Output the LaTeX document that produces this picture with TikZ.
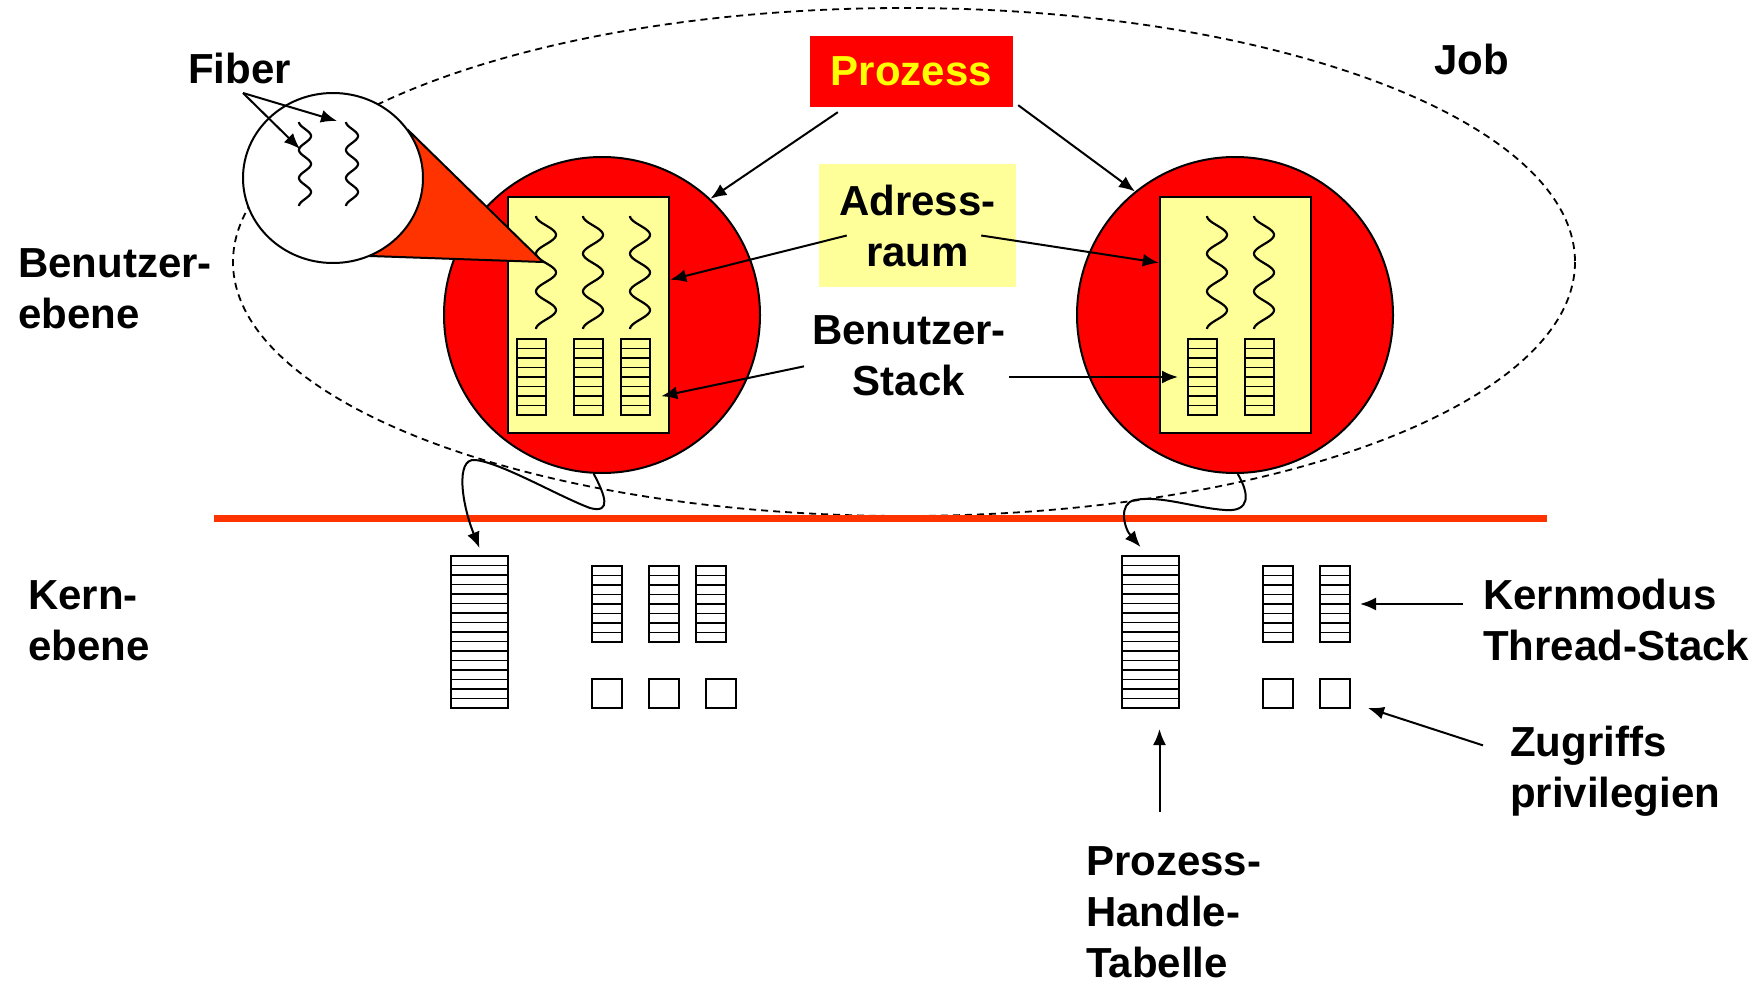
\documentclass[tikz,border=0pt]{standalone}
\usepackage{fontspec}
\setmainfont{Liberation Sans}
\usetikzlibrary{arrows.meta,calc,shapes.geometric}
\definecolor{procred}{HTML}{FF0000}
\definecolor{asyellow}{HTML}{FFFF99}
\definecolor{callred}{HTML}{FF3300}
\definecolor{textyellow}{HTML}{FFFF00}
\tikzset{
  lbl/.style={font=\fontsize{42}{51}\selectfont\bfseries, inner sep=0pt, align=left, anchor=north west},
  ptr/.style={-{Latex[length=16pt,width=13pt]}, line width=2pt},
  stackcell/.style={draw, line width=2pt, inner sep=0pt, outer sep=0pt, anchor=north west},
}
% name, x, y, width, rows
\newcommand\stackbox[5]{%
  \node[stackcell, minimum width=#4pt, minimum height=#5*9.5pt] (#1) at (#2,#3) {};
  \foreach \k in {1,...,#5} \draw[line width=1.6pt] (#2,#3+\k*9.5) -- ++(#4,0);
}
% x, top, height, amplitude
\newcommand\wave[4]{%
  \draw[line width=2.2pt] plot[domain=0:1080, samples=91, smooth] ({#1-#4*cos(\x)}, {#2+\x/1080*#3});
}
\begin{document}
\begin{tikzpicture}[x=1pt, y=-1pt]
  \useasboundingbox (0,0) rectangle (1764,985);
  % job
  \draw[dash pattern=on 7pt off 5pt, line width=1.8pt] (904,262) ellipse [x radius=671, y radius=254];
  % processes
  \node[draw, circle, fill=procred, line width=2pt, minimum size=316pt, inner sep=0pt] (procL) at (602,315) {};
  \node[draw, circle, fill=procred, line width=2pt, minimum size=316pt, inner sep=0pt] (procR) at (1235,315) {};
  \node[draw, fill=asyellow, line width=2.5pt, minimum width=161pt, minimum height=236pt] (asL) at (588.5,315) {};
  \node[draw, fill=asyellow, line width=2.5pt, minimum width=151pt, minimum height=236pt] (asR) at (1235.5,315) {};
  \wave{546}{216}{113}{10}
  \wave{593}{216}{113}{10}
  \wave{640}{216}{113}{10}
  \wave{1217}{216}{113}{10}
  \wave{1264}{216}{113}{10}
  \stackbox{ustL1}{517}{339}{29}{8}
  \stackbox{ustL2}{574}{339}{29}{8}
  \stackbox{ustL3}{621}{339}{29}{8}
  \stackbox{ustR1}{1188}{339}{29}{8}
  \stackbox{ustR2}{1245}{339}{29}{8}
  % fiber zoom
  \filldraw[fill=callred, line width=2pt] (408,130) -- (543,262) -- (370,256) -- (333,178) -- cycle;
  \node[draw, ellipse, fill=white, line width=2pt, minimum width=180pt, minimum height=170pt, inner sep=0pt] (fibzoom) at (333,178) {};
  \wave{305}{122}{84}{6}
  \wave{352}{122}{84}{6}
  % user/kernel border
  \draw[callred, line width=7pt] (214,518.5) -- (1547,518.5);
  % kernel objects
  \stackbox{kbigL}{451}{556}{57}{16}
  \stackbox{ksL1}{592}{566}{30}{8}
  \stackbox{ksL2}{649}{566}{30}{8}
  \stackbox{ksL3}{696}{566}{30}{8}
  \node[stackcell, minimum width=30pt, minimum height=29pt] (privL1) at (592,679) {};
  \node[stackcell, minimum width=30pt, minimum height=29pt] (privL2) at (649,679) {};
  \node[stackcell, minimum width=30pt, minimum height=29pt] (privL3) at (706,679) {};
  \stackbox{kbigR}{1122}{556}{57}{16}
  \stackbox{ksR1}{1263}{566}{30}{8}
  \stackbox{ksR2}{1320}{566}{30}{8}
  \node[stackcell, minimum width=30pt, minimum height=29pt] (privR1) at (1263,679) {};
  \node[stackcell, minimum width=30pt, minimum height=29pt] (privR2) at (1320,679) {};
  % labels
  \node[lbl] (fiber) at (188,53) {Fiber};
  \node[lbl] (job) at (1434,44) {Job};
  \node[lbl] (uslvl) at (18,248) {Benutzer-\\ebene};
  \node[lbl] (krlvl) at (28,580) {Kern-\\ebene};
  \node[lbl, anchor=center, fill=procred, text=textyellow, minimum width=203pt, minimum height=71pt] (proz) at (911.5,71.5) {Prozess};
  \node[lbl, anchor=center, align=center, fill=asyellow, minimum width=197pt, minimum height=123pt] (adr) at (917.5,225.5) {Adress-\\raum};
  \node[lbl, anchor=north, align=center] (ustack) at (909,315) {Benutzer-\\Stack};
  \node[lbl] (kstack) at (1483,579) {Kernmodus\\Thread-Stack};
  \node[lbl] (priv) at (1510,726) {Zugriffs\\privilegien};
  \node[lbl] (handle) at (1086,846) {Prozess-\\Handle-\\Tabelle};
  % arrows
  \coordinate (fibsrc) at (243,93);
  \coordinate (fibw1) at (300,149);
  \coordinate (fibw2) at (337,121);
  \draw[ptr] (fibsrc) -- (fibw1);
  \draw[ptr] (fibsrc) -- (fibw2);
  \draw[ptr] ($(proz.south west)+(28,5)$) -- (procL.47);
  \draw[ptr] ($(proz.south east)+(5,-2)$) -- (procR.129);
  \draw[ptr] ($(adr.west)+(28,10)$) -- ($(asL.north east)+(0,84)$);
  \draw[ptr] ($(adr.east)+(-35,10)$) -- ($(asR.north west)+(0,67)$);
  \draw[ptr] ($(ustack.west)+(-8,11)$) -- ($(asL.south east)+(-9,-38)$);
  \draw[ptr] ($(ustR1.west)+(-179,0)$) -- ($(ustR1.west)+(-10,0)$);
  \draw[ptr] ($(ksR2.east)+(113,0)$) -- ($(ksR2.east)+(10,0)$);
  \draw[ptr] ($(priv.west)+(-27,-26)$) -- ($(privR2.south east)+(18,0)$);
  \draw[ptr] ($(kbigR.south)+(9,104)$) -- ($(kbigR.south)+(9,21)$);
  \draw[ptr] (procL.267) .. controls (605,495) and (612,514) .. (590,508) .. controls (560,497) and (500,462) .. (475,460) .. controls (455,458) and (462,505) .. ($(kbigL.north)+(0,-8)$);
  \draw[ptr] (procR.271) .. controls (1250,495) and (1250,512) .. (1225,510) .. controls (1195,508) and (1160,495) .. (1135,500) .. controls (1118,503) and (1124,528) .. ($(kbigR.north)+(-10,-9)$);
\end{tikzpicture}
\end{document}
